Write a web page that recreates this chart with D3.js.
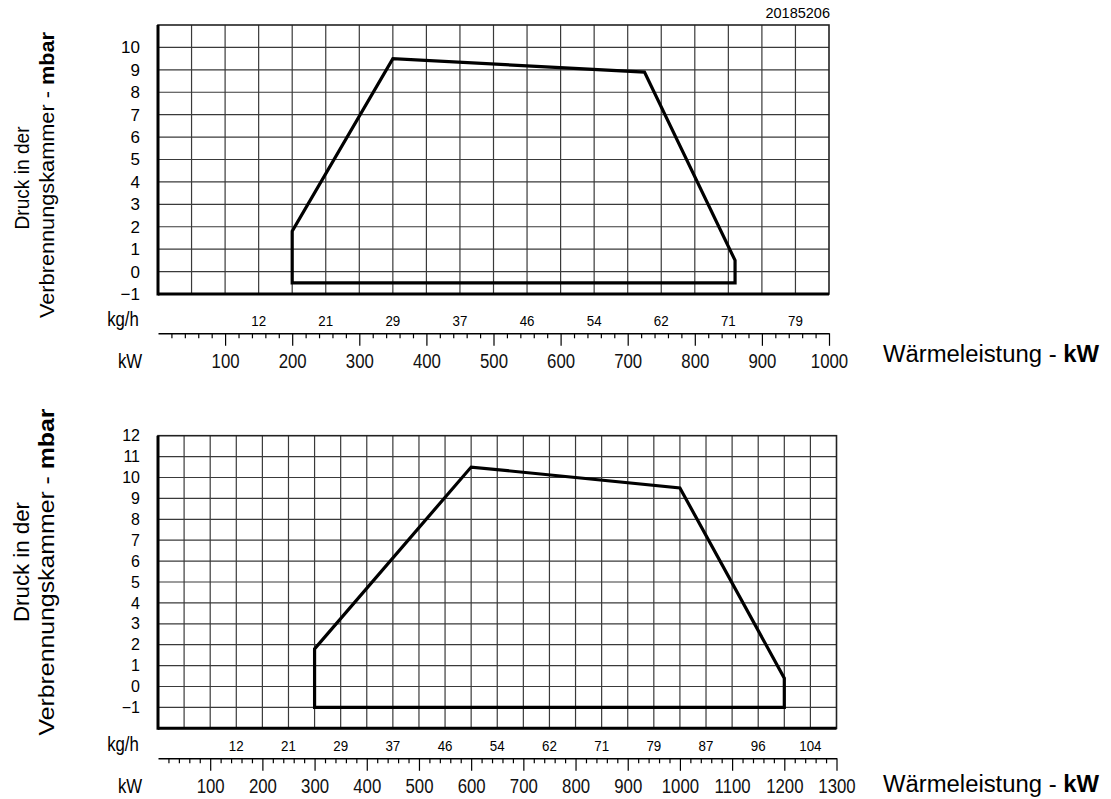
<!DOCTYPE html>
<html>
<head>
<meta charset="utf-8">
<script src="https://cdn.jsdelivr.net/npm/d3@7"></script>
<style>
  body { margin: 0; background: #fff; }
  svg { display: block; }
</style>
</head>
<body>
<div id="chart"></div>
<script>
// Values
const drawingNo = "20185206";

// top diagram: working field (kW / mbar)
const topKw   = [200, 200, 350, 725, 860, 860];
const topMbar = [-0.5, 1.8, 9.5, 8.9, 0.5, -0.5];
const topKgh  = ["12", "21", "29", "37", "46", "54", "62", "71", "79"];

// bottom diagram
const bottomKw   = [300, 300, 600, 1000, 1200, 1200];
const bottomMbar = [-1, 1.8, 10.5, 9.5, 0.4, -1];
const bottomKgh  = ["12", "21", "29", "37", "46", "54", "62", "71", "79", "87", "96", "104"];

const yTitle1 = "Druck in der";
const yTitle2 = "Verbrennungskammer - ";
const yTitleBold = "mbar";
const xTitle = "Wärmeleistung - ";
const xTitleBold = "kW";

const narrow = 0.8; // the drawing font is a condensed one

const svg = d3.select("#chart").append("svg")
    .attr("width", 1111)
    .attr("height", 799);

function drawChart(cfg) {
    const x = d3.scaleLinear().domain([0, cfg.kwMax]).range([cfg.left, cfg.right]);
    const y = d3.scaleLinear().domain([cfg.yMin, cfg.yMax]).range([cfg.bottom, cfg.top]);
    const g = svg.append("g");

    // grid
    g.append("g").selectAll("line")
        .data(d3.range(50, cfg.kwMax, 50))
        .join("line")
        .attr("x1", d => x(d)).attr("x2", d => x(d))
        .attr("y1", cfg.top).attr("y2", cfg.bottom)
        .attr("stroke", "#3a3a3a").attr("stroke-width", 1.2);
    g.append("g").selectAll("line")
        .data(d3.range(cfg.yMin + 1, cfg.yMax))
        .join("line")
        .attr("x1", cfg.left).attr("x2", cfg.right)
        .attr("y1", d => y(d)).attr("y2", d => y(d))
        .attr("stroke", "#3a3a3a").attr("stroke-width", 1.2);

    // frame: thin top/right, heavy left/bottom
    g.append("rect")
        .attr("x", cfg.left).attr("y", cfg.top)
        .attr("width", cfg.right - cfg.left).attr("height", cfg.bottom - cfg.top)
        .attr("fill", "none").attr("stroke", "#222").attr("stroke-width", 1.6);
    g.append("line")
        .attr("x1", cfg.left).attr("x2", cfg.left)
        .attr("y1", cfg.top).attr("y2", cfg.bottom + 1.5)
        .attr("stroke", "#000").attr("stroke-width", 3);
    g.append("line")
        .attr("x1", cfg.left).attr("x2", cfg.right)
        .attr("y1", cfg.bottom).attr("y2", cfg.bottom)
        .attr("stroke", "#000").attr("stroke-width", 3);

    // y labels
    const yAxis = d3.axisLeft(y)
        .tickValues(d3.range(cfg.yMin + (cfg.yMin === -1 ? 0 : 1), cfg.yLabelMax + 1))
        .tickSize(0).tickPadding(18);
    g.append("g")
        .attr("transform", `translate(${cfg.left},0)`)
        .call(yAxis)
        .call(a => a.select(".domain").remove())
        .selectAll("text")
        .attr("font-family", "Liberation Sans, sans-serif")
        .attr("font-size", cfg.yFont)
        .attr("fill", "#000");

    // secondary scale line with kW major ticks and 20 kW minor ticks
    const kwAxis = d3.axisBottom(x)
        .tickValues(d3.range(100, cfg.kwMax + 1, 100))
        .tickSize(12.5).tickSizeOuter(0).tickPadding(7)
        .tickFormat(d3.format("d"));
    const ax = g.append("g")
        .attr("transform", `translate(0,${cfg.scaleY})`)
        .call(kwAxis);
    ax.select(".domain").attr("stroke", "#000").attr("stroke-width", 1.4);
    ax.selectAll(".tick line").attr("stroke", "#000").attr("stroke-width", 1.2);
    ax.selectAll("text")
        .attr("font-family", "Liberation Sans, sans-serif")
        .attr("font-size", 21)
        .attr("fill", "#111")
        .attr("transform", `scale(${narrow},1)`);

    const minorAxis = d3.axisBottom(x)
        .tickValues(d3.range(20, cfg.kwMax, 20).filter(d => d % 100 !== 0))
        .tickSize(5).tickSizeOuter(0).tickFormat("");
    g.append("g")
        .attr("transform", `translate(0,${cfg.scaleY})`)
        .call(minorAxis)
        .call(a => a.select(".domain").remove())
        .selectAll(".tick line").attr("stroke", "#000").attr("stroke-width", 1.2);

    // kg/h labels, at 150, 250, ... kW
    g.append("g").selectAll("text")
        .data(cfg.kgh)
        .join("text")
        .attr("transform", (d, i) => `translate(${x(150 + 100 * i)},${cfg.scaleY - 7.5}) scale(0.92,1)`)
        .attr("text-anchor", "middle")
        .attr("font-family", "Liberation Sans, sans-serif")
        .attr("font-size", 14.5)
        .text(d => d);

    g.append("text")
        .attr("transform", `translate(123,${cfg.scaleY - 7.5}) scale(${narrow},1)`)
        .attr("text-anchor", "middle")
        .attr("font-family", "Liberation Sans, sans-serif")
        .attr("font-size", 21)
        .text("kg/h");
    g.append("text")
        .attr("transform", `translate(130,${cfg.scaleY + 34.5}) scale(${narrow},1)`)
        .attr("text-anchor", "middle")
        .attr("font-family", "Liberation Sans, sans-serif")
        .attr("font-size", 21)
        .text("kW");

    // working field
    const line = d3.line()
        .x(d => x(d[0]))
        .y(d => y(d[1]))
        .curve(d3.curveLinearClosed);
    g.append("path")
        .datum(d3.zip(cfg.kw, cfg.mbar))
        .attr("d", line)
        .attr("fill", "none")
        .attr("stroke", "#000")
        .attr("stroke-width", 3.2)
        .attr("stroke-linejoin", "miter");

    // axis titles
    g.append("text")
        .attr("transform", `translate(29,${cfg.title1Y}) rotate(-90)`)
        .attr("text-anchor", "middle")
        .attr("font-family", "Liberation Sans, Arial, sans-serif")
        .attr("font-size", cfg.titleFont)
        .attr("textLength", cfg.title1Len)
        .attr("lengthAdjust", "spacingAndGlyphs")
        .text(yTitle1);
    const t2 = g.append("text")
        .attr("transform", `translate(54,${cfg.title2Y}) rotate(-90)`)
        .attr("text-anchor", "middle")
        .attr("font-family", "Liberation Sans, Arial, sans-serif")
        .attr("font-size", cfg.titleFont)
        .attr("textLength", cfg.title2Len)
        .attr("lengthAdjust", "spacingAndGlyphs");
    t2.append("tspan").text(yTitle2);
    t2.append("tspan").attr("font-weight", "bold").text(yTitleBold);

    const tx = g.append("text")
        .attr("x", 883).attr("y", cfg.xTitleY)
        .attr("font-family", "Liberation Sans, Arial, sans-serif")
        .attr("font-size", 23)
        .attr("textLength", 216)
        .attr("lengthAdjust", "spacingAndGlyphs");
    tx.append("tspan").text(xTitle);
    tx.append("tspan").attr("font-weight", "bold").text(xTitleBold);
}

drawChart({
    left: 158, right: 829, top: 25, bottom: 294,
    kwMax: 1000, yMin: -1, yMax: 11, yLabelMax: 10, yFont: 17,
    scaleY: 333.3,
    kw: topKw, mbar: topMbar, kgh: topKgh,
    titleFont: 20,
    title1Y: 178, title1Len: 103,
    title2Y: 175, title2Len: 286,
    xTitleY: 362
});

drawChart({
    left: 158, right: 836.5, top: 435.7, bottom: 728.3,
    kwMax: 1300, yMin: -2, yMax: 12, yLabelMax: 12, yFont: 16,
    scaleY: 758.3,
    kw: bottomKw, mbar: bottomMbar, kgh: bottomKgh,
    titleFont: 21.5,
    title1Y: 562, title1Len: 120,
    title2Y: 572, title2Len: 327,
    xTitleY: 792
});

svg.append("text")
    .attr("x", 830).attr("y", 18)
    .attr("text-anchor", "end")
    .attr("font-family", "Liberation Sans, Arial, sans-serif")
    .attr("font-size", 14.5)
    .text(drawingNo);
</script>
</body>
</html>
